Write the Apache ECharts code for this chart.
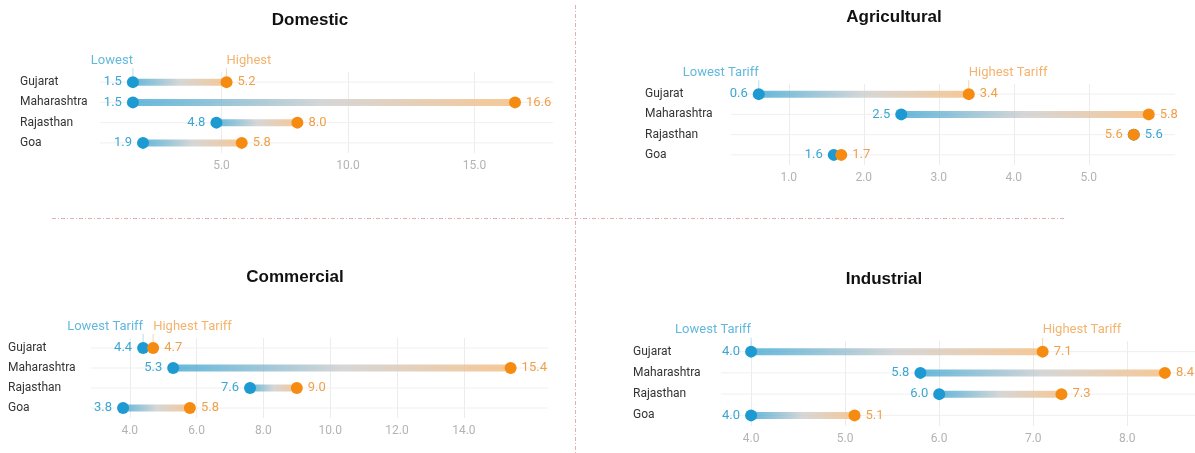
<!DOCTYPE html>
<html><head><meta charset="utf-8">
<script src="https://cdn.jsdelivr.net/npm/echarts@6/dist/echarts.min.js"></script>
<style>html,body{margin:0;padding:0;background:#fff}#c{width:1195px;height:453px}</style>
</head><body><div id="c"></div>
<script>
const categories = ['Gujarat', 'Maharashtra', 'Rajasthan', 'Goa'];
const domesticLow = [1.5, 1.5, 4.8, 1.9];
const domesticHigh = [5.2, 16.6, 8.0, 5.8];
const agriculturalLow = [0.6, 2.5, 5.6, 1.6];
const agriculturalHigh = [3.4, 5.8, 5.6, 1.7];
const commercialLow = [4.4, 5.3, 7.6, 3.8];
const commercialHigh = [4.7, 15.4, 9.0, 5.8];
const industrialLow = [4.0, 5.8, 6.0, 4.0];
const industrialHigh = [7.1, 8.4, 7.3, 5.1];
const panelTitles = ['Domestic', 'Agricultural', 'Commercial', 'Industrial'];
const lowNames = ['Lowest', 'Lowest Tariff', 'Lowest Tariff', 'Lowest Tariff'];
const highNames = ['Highest', 'Highest Tariff', 'Highest Tariff', 'Highest Tariff'];

const lows = [domesticLow, agriculturalLow, commercialLow, industrialLow];
const highs = [domesticHigh, agriculturalHigh, commercialHigh, industrialHigh];

const layout = [
  {grid: {left: 100, top: 72, width: 453, height: 81}, min: 0.2, max: 18.1, step: 5, margin: 80, ext: 0, tx: 310, ty: 20},
  {grid: {left: 731, top: 84, width: 429, height: 81}, min: 0.23, max: 5.95, step: 1, margin: 86, ext: 15, tx: 894, ty: 17},
  {grid: {left: 91, top: 338, width: 438, height: 80}, min: 2.84, max: 15.95, step: 2, margin: 83, ext: 19, tx: 295, ty: 277},
  {grid: {left: 721, top: 341, width: 474, height: 85}, min: 3.68, max: 8.72, step: 1, margin: 88, ext: 0, tx: 884, ty: 279}
];

const BLUE = '#1d9ad1', ORANGE = '#f68b12';
const BLUE_T = '#3ba6d3', ORANGE_T = '#f0a04a';
const FONT = 'Roboto';

const grids = [], xAxes = [], yAxes = [], series = [], graphics = [];

layout.forEach((L, p) => {
  grids.push(Object.assign({containLabel: false}, L.grid));
  xAxes.push({
    type: 'value', gridIndex: p, min: L.min, max: L.max,
    minInterval: L.step, maxInterval: L.step,
    axisLine: {show: false}, axisTick: {show: false},
    axisLabel: {color: '#b3b3b3', fontSize: 12, fontFamily: FONT, margin: 7,
      showMinLabel: false, showMaxLabel: false,
      formatter: v => Number(v).toFixed(1)},
    splitLine: {show: true, showMinLine: false, showMaxLine: false, lineStyle: {color: '#ececec', width: 1}}
  });
  yAxes.push({
    type: 'category', gridIndex: p, data: categories, inverse: true,
    axisLine: {show: false}, axisTick: {show: false}, splitLine: {show: false},
    axisLabel: {align: 'left', margin: L.margin, color: '#333', fontSize: 12, fontFamily: FONT}
  });
  const lo = lows[p], hi = highs[p];
  const ext = L.ext;
  series.push({
    type: 'custom', xAxisIndex: p, yAxisIndex: p, silent: true, z: 1,
    encode: {x: [0, 1], y: 2},
    data: categories.map((c, i) => [lo[i], hi[i], i]),
    renderItem: (params, api) => {
      const cs = params.coordSys;
      const a = api.coord([api.value(0), api.value(2)]);
      const b = api.coord([api.value(1), api.value(2)]);
      const y = a[1];
      const children = [{type: 'line', shape: {x1: cs.x, y1: y, x2: cs.x + cs.width + ext, y2: y},
        style: {stroke: '#efefef', lineWidth: 1}}];
      const w = b[0] - a[0];
      if (w > 0.5) {
        children.push({type: 'rect', shape: {x: a[0], y: y - 3.5, width: w, height: 7},
          style: {fill: new echarts.graphic.LinearGradient(0, 0, 1, 0, [
            {offset: 0, color: 'rgba(45,158,206,0.72)'},
            {offset: 0.5, color: 'rgba(205,205,205,0.8)'},
            {offset: 1, color: 'rgba(246,192,135,0.88)'}])}});
      }
      return {type: 'group', children};
    }
  });
  series.push({
    type: 'scatter', xAxisIndex: p, yAxisIndex: p, silent: true, z: 3,
    symbolSize: 12, itemStyle: {color: BLUE, opacity: 1},
    data: categories.map((c, i) => ({value: [lo[i], c],
      label: {position: lo[i] < hi[i] ? 'left' : 'right'}})),
    label: {show: true, color: BLUE_T, fontSize: 13, fontFamily: FONT, distance: 5,
      formatter: d => d.value[0].toFixed(1)}
  });
  series.push({
    type: 'scatter', xAxisIndex: p, yAxisIndex: p, silent: true, z: 4,
    symbolSize: 12, itemStyle: {color: ORANGE, opacity: 1},
    data: categories.map((c, i) => ({value: [hi[i], c],
      label: {position: hi[i] > lo[i] ? 'right' : 'left'}})),
    label: {show: true, color: ORANGE_T, fontSize: 13, fontFamily: FONT, distance: 5,
      formatter: d => d.value[0].toFixed(1)}
  });
  // annotations above the first row
  series.push({
    type: 'scatter', xAxisIndex: p, yAxisIndex: p, silent: true, z: 2,
    symbol: 'rect', symbolSize: [1, 8], symbolOffset: [0, -10],
    itemStyle: {color: '#a8d3e8'},
    data: [[lo[0], categories[0]]],
    label: {show: true, position: 'top', distance: 1, align: 'right', color: BLUE_T,
      fontSize: 13, fontFamily: FONT, formatter: () => lowNames[p]}
  });
  series.push({
    type: 'scatter', xAxisIndex: p, yAxisIndex: p, silent: true, z: 2,
    symbol: 'rect', symbolSize: [1, 8], symbolOffset: [0, -10],
    itemStyle: {color: '#f3c89a'},
    data: [[hi[0], categories[0]]],
    label: {show: true, position: 'top', distance: 1, align: 'left', color: ORANGE_T,
      fontSize: 13, fontFamily: FONT, formatter: () => highNames[p]}
  });
  graphics.push({type: 'text', x: L.tx, y: L.ty, silent: true,
    style: {text: panelTitles[p], textAlign: 'center', textVerticalAlign: 'middle',
      font: 'bold 17px "Liberation Sans", Arial, sans-serif', fill: '#111'}});
});

graphics.push({type: 'line', silent: true, shape: {x1: 575.5, y1: 5, x2: 575.5, y2: 453},
  style: {stroke: '#e3b0b0', lineWidth: 1, lineDash: [4, 2, 1, 2]}});
graphics.push({type: 'line', silent: true, shape: {x1: 52, y1: 218.5, x2: 1065, y2: 218.5},
  style: {stroke: '#e3b0b0', lineWidth: 1, lineDash: [4, 2, 1, 2]}});

const chart = echarts.init(document.getElementById('c'), null, {renderer: 'canvas'});
chart.setOption({
  backgroundColor: '#ffffff',
  animation: false,
  textStyle: {fontFamily: FONT},
  grid: grids, xAxis: xAxes, yAxis: yAxes, series, graphic: graphics
});
</script></body></html>
